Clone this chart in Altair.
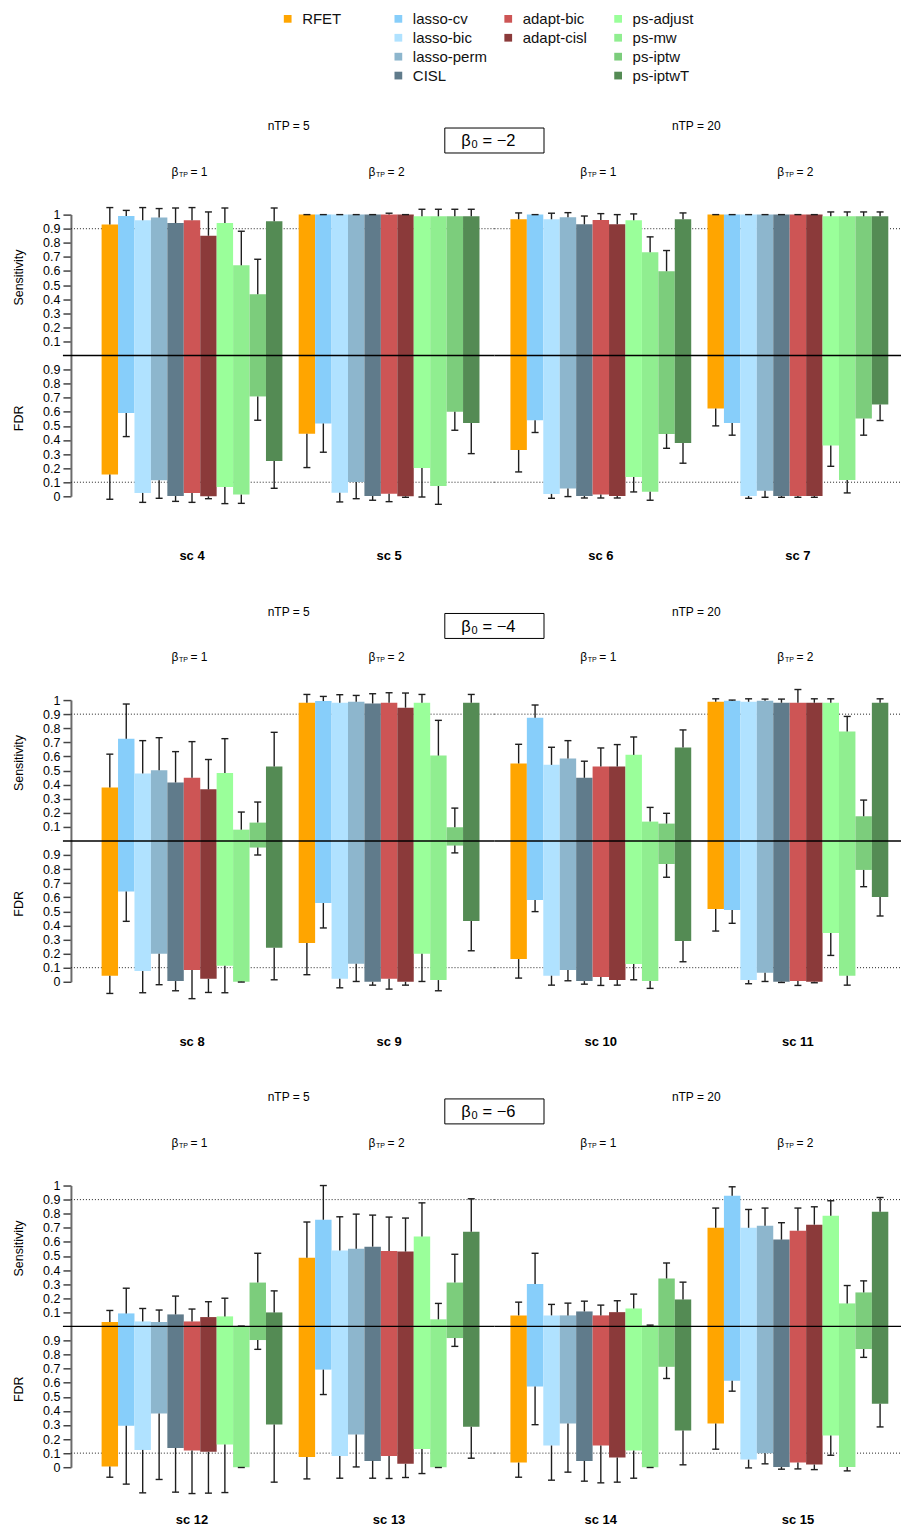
import altair as alt
import pandas as pd

# ---------------- data ----------------
METHODS = ["RFET", "lasso-cv", "lasso-bic", "lasso-perm", "CISL",
           "adapt-bic", "adapt-cisl", "ps-adjust", "ps-mw", "ps-iptw", "ps-iptwT"]
COLORS = ["#FFA500", "#87CEFA", "#B0E2FF", "#8DB6CD", "#607B8B",
          "#CD5555", "#8B3A3A", "#9AFF9A", "#90EE90", "#7CCD7C", "#548B54"]
LEGEND_GROUPS = [["RFET"],
                 ["lasso-cv", "lasso-bic", "lasso-perm", "CISL"],
                 ["adapt-bic", "adapt-cisl"],
                 ["ps-adjust", "ps-mw", "ps-iptw", "ps-iptwT"]]

BETA0 = ["−2", "−4", "−6"]
ROW_SCENARIOS = [["sc 4", "sc 5", "sc 6", "sc 7"],
                 ["sc 8", "sc 9", "sc 10", "sc 11"],
                 ["sc 12", "sc 13", "sc 14", "sc 15"]]
NTP = [5, 5, 20, 20]          # per scenario position within a row
BETA_TP = [1, 2, 1, 2]        # per scenario position within a row

SENS_TARGET = 0.9
FDR_TARGET = 0.1

SENS = {
    "sc 4":  [0.93, 0.99, 0.96, 0.98, 0.94, 0.96, 0.85, 0.94, 0.64, 0.435, 0.953],
    "sc 5":  [1.0, 1.0, 1.0, 1.0, 1.0, 1.0, 1.0, 0.988, 0.988, 0.988, 0.988],
    "sc 6":  [0.967, 1.0, 0.967, 0.981, 0.931, 0.962, 0.931, 0.96, 0.733, 0.598, 0.967],
    "sc 7":  [1.0, 1.0, 1.0, 1.0, 1.0, 1.0, 1.0, 0.988, 0.988, 0.988, 0.988],
    "sc 8":  [0.38, 0.726, 0.479, 0.502, 0.415, 0.448, 0.366, 0.483, 0.08, 0.13, 0.528],
    "sc 9":  [0.981, 0.993, 0.981, 0.988, 0.976, 0.981, 0.946, 0.981, 0.606, 0.097, 0.981],
    "sc 10": [0.55, 0.875, 0.54, 0.585, 0.448, 0.528, 0.528, 0.611, 0.137, 0.123, 0.663],
    "sc 11": [0.988, 0.995, 0.988, 0.995, 0.981, 0.981, 0.981, 0.981, 0.776, 0.175, 0.981],
    "sc 12": [0.031, 0.092, 0.035, 0.031, 0.085, 0.035, 0.066, 0.071, 0.0, 0.311, 0.099],
    "sc 13": [0.488, 0.757, 0.538, 0.552, 0.566, 0.535, 0.531, 0.639, 0.05, 0.311, 0.672],
    "sc 14": [0.078, 0.3, 0.078, 0.078, 0.106, 0.078, 0.101, 0.127, 0.007, 0.34, 0.191],
    "sc 15": [0.7, 0.927, 0.7, 0.715, 0.616, 0.679, 0.722, 0.785, 0.163, 0.241, 0.814],
}
SENS_HI = {
    "sc 4":  [1.05, 1.03, 1.05, 1.043, 1.047, 1.05, 1.019, 1.047, 0.882, 0.683, 1.047],
    "sc 5":  [1.0, 1.0, 1.0, 1.0, 1.0, 1.01, 1.0, 1.038, 1.038, 1.038, 1.038],
    "sc 6":  [1.012, 1.0, 1.01, 1.014, 0.99, 1.007, 1.0, 1.005, 0.842, 0.745, 1.012],
    "sc 7":  [1.0, 1.0, 1.0, 1.0, 1.0, 1.0, 1.0, 1.019, 1.019, 1.019, 1.019],
    "sc 8":  [0.616, 0.972, 0.712, 0.733, 0.634, 0.705, 0.578, 0.726, 0.205, 0.276, 0.771],
    "sc 9":  [1.04, 1.026, 1.038, 1.033, 1.045, 1.052, 1.05, 1.04, 0.856, 0.233, 1.04],
    "sc 10": [0.686, 0.965, 0.665, 0.712, 0.566, 0.66, 0.684, 0.738, 0.238, 0.196, 0.788],
    "sc 11": [1.009, 1.0, 1.009, 1.007, 1.007, 1.075, 1.009, 1.009, 0.884, 0.29, 1.009],
    "sc 12": [0.113, 0.271, 0.127, 0.116, 0.215, 0.123, 0.175, 0.2, 0.002, 0.519, 0.252],
    "sc 13": [0.741, 1.0, 0.778, 0.797, 0.79, 0.776, 0.769, 0.877, 0.163, 0.512, 0.906],
    "sc 14": [0.172, 0.519, 0.156, 0.165, 0.179, 0.151, 0.182, 0.229, 0.009, 0.45, 0.314],
    "sc 15": [0.84, 0.991, 0.83, 0.84, 0.736, 0.84, 0.849, 0.892, 0.29, 0.323, 0.915],
}
FDR = {
    "sc 4":  [0.154, 0.592, 0.024, 0.114, 0.002, 0.024, 0.0, 0.066, 0.012, 0.709, 0.251],
    "sc 5":  [0.445, 0.517, 0.026, 0.102, 0.002, 0.019, 0.0, 0.201, 0.073, 0.6, 0.521],
    "sc 6":  [0.329, 0.54, 0.017, 0.055, 0.002, 0.012, 0.002, 0.137, 0.033, 0.443, 0.379],
    "sc 7":  [0.623, 0.521, 0.002, 0.04, 0.002, 0.002, 0.002, 0.36, 0.116, 0.552, 0.652],
    "sc 8":  [0.043, 0.64, 0.076, 0.199, 0.005, 0.083, 0.021, 0.114, 0.0, 0.953, 0.242],
    "sc 9":  [0.275, 0.559, 0.021, 0.128, 0.0, 0.021, 0.0, 0.199, 0.012, 0.967, 0.431],
    "sc 10": [0.161, 0.581, 0.043, 0.083, 0.005, 0.033, 0.012, 0.126, 0.005, 0.836, 0.289],
    "sc 11": [0.517, 0.509, 0.012, 0.064, 0.0, 0.005, 0.0, 0.346, 0.043, 0.794, 0.602],
    "sc 12": [0.005, 0.294, 0.123, 0.381, 0.137, 0.118, 0.109, 0.161, 0.0, 0.903, 0.303],
    "sc 13": [0.073, 0.693, 0.08, 0.232, 0.045, 0.08, 0.024, 0.13, 0.0, 0.917, 0.288],
    "sc 14": [0.033, 0.573, 0.154, 0.31, 0.045, 0.154, 0.069, 0.118, 0.0, 0.713, 0.261],
    "sc 15": [0.31, 0.614, 0.054, 0.099, 0.002, 0.033, 0.019, 0.225, 0.002, 0.839, 0.45],
}
FDR_LO = {
    "sc 4":  [-0.021, 0.424, -0.043, -0.014, -0.036, -0.043, -0.017, -0.052, -0.05, 0.54, 0.057],
    "sc 5":  [0.204, 0.313, -0.04, -0.017, -0.028, -0.038, -0.007, -0.005, -0.057, 0.469, 0.303],
    "sc 6":  [0.173, 0.453, -0.014, -0.002, -0.012, -0.012, -0.012, 0.031, -0.028, 0.341, 0.235],
    "sc 7":  [0.5, 0.434, -0.014, -0.007, -0.007, -0.007, -0.007, 0.213, 0.024, 0.434, 0.538],
    "sc 8":  [-0.083, 0.429, -0.078, -0.021, -0.064, -0.12, -0.076, -0.078, -0.002, 0.9, 0.014],
    "sc 9":  [0.05, 0.382, -0.043, 0.002, -0.024, -0.052, -0.024, 0.002, -0.064, 0.915, 0.22],
    "sc 10": [0.026, 0.498, -0.024, 0.007, -0.017, -0.026, -0.024, 0.014, -0.047, 0.742, 0.142],
    "sc 11": [0.36, 0.415, -0.014, 0.002, -0.005, -0.026, -0.007, 0.187, -0.024, 0.675, 0.467],
    "sc 12": [-0.071, -0.12, -0.182, -0.087, -0.177, -0.187, -0.184, -0.18, -0.002, 0.837, -0.106],
    "sc 13": [-0.083, 0.516, -0.078, 0.002, -0.078, -0.08, -0.073, -0.045, -0.002, 0.858, 0.064],
    "sc 14": [-0.071, 0.302, -0.092, -0.035, -0.099, -0.111, -0.106, -0.078, -0.002, 0.63, 0.017],
    "sc 15": [0.128, 0.54, -0.005, 0.024, -0.014, -0.012, -0.017, 0.085, -0.026, 0.78, 0.286],
}

# ---------------- tables ----------------
records = []
scen_records = []
for scens in ROW_SCENARIOS:
    for j, sc in enumerate(scens):
        scen_records.append({"scenario": sc, "ntp": NTP[j], "btp": f"= {BETA_TP[j]}"})
        for i, m in enumerate(METHODS):
            records.append({"scenario": sc, "method": m,
                            "sens": SENS[sc][i], "sens_hi": SENS_HI[sc][i],
                            "fdr": FDR[sc][i], "fdr_lo": FDR_LO[sc][i]})
long_df = pd.DataFrame(records)
scen_df = pd.DataFrame(scen_records)

leg = []
for c, grp in enumerate(LEGEND_GROUPS):
    for r, m in enumerate(grp):
        leg.append({"method": m, "col": c, "row": r})
leg_df = pd.DataFrame(leg)

# ---------------- styling ----------------
FONT = "Liberation Sans"
W_L, W_R = 424, 407
H_PLOT, H_CELL = 282, 282
P_INNER = 0.0826
ERR_COLOR = "#1f1f1f"
PAD = {"left": 5, "top": 0, "right": 0, "bottom": 0}

yscale = alt.Scale(domain=[-1, 1], range=[H_PLOT, 0], nice=False, zero=False)
tick_vals = [round(-1 + 0.1 * k, 1) for k in range(10)] + [round(0.1 * k, 1) for k in range(1, 11)]
yaxis_left = alt.Axis(values=tick_vals, title=None, grid=False,
                      labelExpr="datum.value > 0 ? format(datum.value, '.1~f') : format(datum.value + 1, '.1~f')",
                      domainColor="#6b6b6b", domainWidth=2, tickColor="#444444", tickWidth=1.5,
                      tickSize=8, labelFontSize=12.5, labelColor="#000000", labelPadding=3,
                      labelFont=FONT)
color_enc = alt.Color("method:N", scale=alt.Scale(domain=METHODS, range=COLORS), legend=None)


def panel(scens, ntp, width, pad_outer, align, left, beta0=None, sc_y=342):
    df = long_df[long_df.scenario.isin(scens)]
    sdf = scen_df[scen_df.scenario.isin(scens)]
    yaxis = yaxis_left if left else None
    xs = alt.X("scenario:N",
               scale=alt.Scale(domain=scens, paddingInner=P_INNER, paddingOuter=pad_outer, align=align),
               axis=None)
    xo = alt.XOffset("method:N", scale=alt.Scale(domain=METHODS, paddingInner=0, paddingOuter=0))

    def Y(f):
        return alt.Y(f, scale=yscale, axis=yaxis, stack=None)

    base = alt.Chart(df).transform_calculate(fdr_y="datum.fdr - 1", fdr_lo_y="datum.fdr_lo - 1")
    one = pd.DataFrame({"k": [0]})

    refs = alt.Chart(pd.DataFrame({"lvl": [SENS_TARGET, FDR_TARGET]})).transform_calculate(
        ly="datum.lvl > 0.5 ? datum.lvl : datum.lvl - 1"
    ).mark_rule(strokeDash=[1, 2], color="#222222", strokeWidth=1).encode(
        y=Y("ly:Q"), x=alt.value(0), x2=alt.value(width))

    bars_s = base.mark_bar().encode(x=xs, xOffset=xo, y=Y("sens:Q"), y2=alt.datum(0), color=color_enc)
    bars_f = base.mark_bar().encode(x=xs, xOffset=xo, y=Y("fdr_y:Q"), y2=alt.datum(0), color=color_enc)

    wh_s = base.mark_rule(color=ERR_COLOR, strokeWidth=1.4).encode(x=xs, xOffset=xo, y=Y("sens:Q"), y2="sens_hi:Q")
    wh_f = base.mark_rule(color=ERR_COLOR, strokeWidth=1.4).encode(x=xs, xOffset=xo, y=Y("fdr_y:Q"), y2="fdr_lo_y:Q")
    cap_s = base.mark_tick(color=ERR_COLOR, size=7, thickness=1.4, opacity=1).encode(x=xs, xOffset=xo, y=Y("sens_hi:Q"))
    cap_f = base.mark_tick(color=ERR_COLOR, size=7, thickness=1.4, opacity=1).encode(x=xs, xOffset=xo, y=Y("fdr_lo_y:Q"))

    center = alt.Chart(one).mark_rule(color="#000000", strokeWidth=1.5).encode(
        y=alt.Y("k:Q", scale=yscale, axis=yaxis), x=alt.value(-8 if left else 0), x2=alt.value(width))

    # labels
    tbase = alt.Chart(sdf)
    b1 = tbase.mark_text(text="β", align="left", baseline="middle", dx=-20.6, fontSize=12, font=FONT, color="#000").encode(
        x=xs, y=alt.value(-43))
    b2 = tbase.mark_text(text="TP", align="left", baseline="middle", dx=-13, dy=3, fontSize=7, font=FONT, color="#000").encode(
        x=xs, y=alt.value(-43))
    b3 = tbase.mark_text(align="left", baseline="middle", dx=-1.5, fontSize=12, font=FONT, color="#000").encode(
        x=xs, y=alt.value(-43), text="btp:N")
    sc_lab = tbase.mark_text(baseline="middle", fontSize=13, fontWeight="bold", font=FONT, color="#000").encode(
        x=xs, y=alt.value(sc_y), text="scenario:N")

    ntp_x = 218 if left else 202
    ntp_t = alt.Chart(one).mark_text(text=f"nTP = {ntp}", baseline="middle", fontSize=12, font=FONT, color="#000").encode(
        x=alt.value(ntp_x), y=alt.value(-88.3))

    layers = [refs, bars_s, bars_f, wh_s, wh_f, cap_s, cap_f, center, b1, b2, b3, sc_lab, ntp_t]

    if left:
        sens_t = alt.Chart(one).mark_text(text="Sensitivity", angle=270, baseline="middle", fontSize=12.5,
                                          font=FONT, color="#000").encode(x=alt.value(-51.5), y=alt.value(63))
        fdr_t = alt.Chart(one).mark_text(text="FDR", angle=270, baseline="middle", fontSize=12.5,
                                         font=FONT, color="#000").encode(x=alt.value(-51.5), y=alt.value(204))
        box = alt.Chart(one).mark_rect(fill="white", stroke="#000", strokeWidth=1).encode(
            x=alt.value(374.3), x2=alt.value(473.6), y=alt.value(-86.7), y2=alt.value(-61.7))
        g1 = alt.Chart(one).mark_text(text="β", align="left", baseline="middle", fontSize=16.5, font=FONT, color="#000").encode(
            x=alt.value(390.7), y=alt.value(-73.5))
        g2 = alt.Chart(one).mark_text(text="0", align="left", baseline="middle", fontSize=11, font=FONT, color="#000").encode(
            x=alt.value(401), y=alt.value(-69.5))
        g3 = alt.Chart(one).mark_text(text=f"= {beta0}", align="left", baseline="middle", fontSize=16.5, font=FONT,
                                      color="#000").encode(x=alt.value(412), y=alt.value(-73.5))
        layers += [sens_t, fdr_t, box, g1, g2, g3]

    return alt.layer(*layers).properties(width=width, height=H_CELL)


def legend_cell(cols, x_range, width):
    d = leg_df[leg_df.col.isin(cols)]
    xenc = alt.X("col:Q", scale=alt.Scale(domain=[cols[0], cols[-1]], range=x_range), axis=None)
    yenc = alt.Y("row:Q", scale=alt.Scale(domain=[0, 3], range=[10, 66.8]), axis=None)
    sq = alt.Chart(d).mark_square(size=60, opacity=1).encode(x=xenc, y=yenc, color=color_enc)
    tx = alt.Chart(d).mark_text(align="left", baseline="middle", dx=14.5, fontSize=15, font=FONT,
                                color="#111").encode(x=xenc, y=yenc, text="method:N")
    return alt.layer(sq, tx).properties(width=width, height=2)


cells = [legend_cell([0, 1], [217, 327.8], W_L), legend_cell([2, 3], [13.8, 123.8], W_R)]
for k in range(3):
    scens = ROW_SCENARIOS[k]
    sc_y = 342 if k < 2 else 335
    cells.append(panel(scens[:2], NTP[0], W_L, 0.1158, 0.672, True, BETA0[k], sc_y))
    cells.append(panel(scens[2:], NTP[2], W_R, 0.0727, 0.557, False, None, sc_y))

chart = alt.concat(*cells, columns=2, spacing={"row": 204, "column": 0}, bounds="flush").properties(
    padding=PAD
).configure(font=FONT, padding=PAD).configure_view(stroke=None)

chart.save("out.html", embed_options={"renderer": "svg", "actions": False, "padding": PAD})
